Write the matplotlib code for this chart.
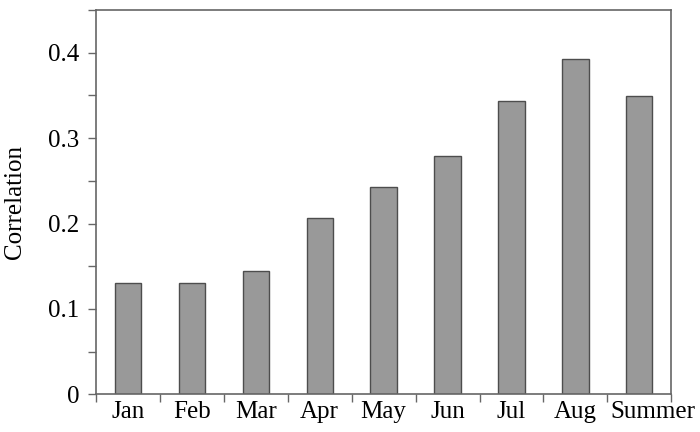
import matplotlib
matplotlib.use("Agg")
import matplotlib.pyplot as plt
import matplotlib.transforms as mtransforms
from matplotlib.ticker import MultipleLocator, FixedLocator
import numpy as np

categories = ["Jan", "Feb", "Mar", "Apr", "May", "Jun", "Jul", "Aug", "Summer"]
values = [0.130, 0.130, 0.145, 0.206, 0.243, 0.279, 0.343, 0.392, 0.349]

plt.rcParams['font.family'] = ['Liberation Serif', 'DejaVu Serif']

fig = plt.figure(figsize=(7.0, 4.32), dpi=100)
ax = fig.add_axes([0.137, 0.087, 0.822, 0.890])

x = np.arange(len(categories))
ax.bar(x, values, width=0.41, color="#999999", edgecolor="#4d4d4d", linewidth=1.0, zorder=2)

ax.set_xlim(-0.5, len(categories) - 0.5)
ax.set_ylim(0, 0.45)

ax.set_xticks(x)
ax.set_xticklabels(categories, fontsize=18)
ax.tick_params(axis='x', which='major', length=0, pad=5)
ax.xaxis.set_minor_locator(FixedLocator(np.arange(-0.5, len(categories), 1.0)))
ax.tick_params(axis='x', which='minor', length=6, width=1, color="#666666", direction='out')

# shift the last label a little to the right, as in the reference
last = ax.get_xticklabels()[-1]
last.set_transform(last.get_transform() + mtransforms.ScaledTranslation(14/100, 0, fig.dpi_scale_trans))

ax.yaxis.set_minor_locator(MultipleLocator(0.05))
ax.set_yticks([0, 0.1, 0.2, 0.3, 0.4])
ax.set_yticklabels(["0", "0.1", "0.2", "0.3", "0.4"], fontsize=18)
ax.tick_params(axis='y', which='both', length=6, width=1, color="#666666", direction='out', pad=6)

for s in ax.spines.values():
    s.set_color("#666666")
    s.set_linewidth(1.2)

ax.set_ylabel("Correlation", fontsize=18, labelpad=16)

fig.savefig("out.png", dpi=100)
